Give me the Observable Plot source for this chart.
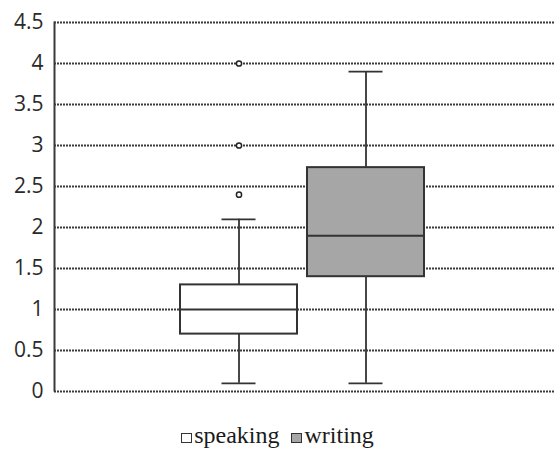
<!DOCTYPE html>
<html>
<head>
<meta charset="utf-8">
<script src="https://cdn.jsdelivr.net/npm/d3@7"></script>
<script src="https://cdn.jsdelivr.net/npm/@observablehq/plot@0.6"></script>
<style>
  html, body { margin: 0; padding: 0; background: #fff; }
  #wrap { position: relative; width: 555px; height: 453px; }
  #legend { position: absolute; top: 419px; left: 0; width: 555px; text-align: center;
    font-family: "Liberation Serif", "Times New Roman", Tinos, serif; font-size: 24px; line-height: 32px; color: #1a1a1a; white-space: nowrap; }
  .sw { display: inline-block; width: 9px; height: 8px; border: 1.5px solid #333; vertical-align: 0px; margin-right: 2px; }
</style>
</head>
<body>
<div id="wrap"><div id="chart"></div><div id="legend"></div></div>
<script>
// Data
const groups   = ["speaking", "writing"];
const fills    = ["#ffffff", "#a6a6a6"];
const mins     = [0.1, 0.1];
const q1s      = [0.7, 1.4];
const medians  = [1.0, 1.9];
const q3s      = [1.3, 2.73];
const maxs     = [2.1, 3.9];
const outlierGroup = ["speaking", "speaking", "speaking"];
const outlierValue = [2.4, 3.0, 4.0];
const yTicks   = [0, 0.5, 1, 1.5, 2, 2.5, 3, 3.5, 4, 4.5];
const yTickLabels = ["0", "0.5", "1", "1.5", "2", "2.5", "3", "3.5", "4", "4.5"];

const stats = groups.map((g, i) => ({group: g, fill: fills[i], min: mins[i], q1: q1s[i], median: medians[i], q3: q3s[i], max: maxs[i]}));
const outliers = outlierGroup.map((g, i) => ({group: g, value: outlierValue[i]}));

const dark = "#333";
const chart = Plot.plot({
  width: 555,
  height: 405,
  marginLeft: 54,
  marginRight: 0,
  marginTop: 22,
  marginBottom: 14,
  style: {fontFamily: "'Open Sans', sans-serif", background: "#fff"},
  x: {type: "band", domain: groups, range: [179, 424.5], paddingInner: 0.078, paddingOuter: 0, axis: null},
  y: {domain: [0, 4.5], ticks: yTicks},
  marks: [
    Plot.ruleY(yTicks, {stroke: "#3a3a3a", strokeWidth: 2, strokeDasharray: "2,1"}),
    Plot.frame({anchor: "left", stroke: "#3a3a3a", strokeWidth: 2, strokeDasharray: "2,1"}),
    Plot.axisY({ticks: yTicks, tickSize: 0, tickPadding: 11, tickFormat: (d) => yTickLabels[yTicks.indexOf(d)], fontSize: 21, fill: "#2a2a2a"}),
    Plot.ruleX(stats, {x: "group", y1: "min", y2: "q1", stroke: dark, strokeWidth: 1.8}),
    Plot.ruleX(stats, {x: "group", y1: "q3", y2: "max", stroke: dark, strokeWidth: 1.8}),
    Plot.tickY(stats, {x: "group", y: "min", stroke: dark, strokeWidth: 1.8, insetLeft: 41.5, insetRight: 41.5}),
    Plot.tickY(stats, {x: "group", y: "max", stroke: dark, strokeWidth: 1.8, insetLeft: 41.5, insetRight: 41.5}),
    Plot.barY(stats, {x: "group", y1: "q1", y2: "q3", fill: "fill", stroke: dark, strokeWidth: 2}),
    Plot.tickY(stats, {x: "group", y: "median", stroke: dark, strokeWidth: 2}),
    Plot.dot(outliers, {x: "group", y: "value", r: 2.6, fill: "#fff", stroke: "#222", strokeWidth: 1.5})
  ]
});
document.getElementById("chart").appendChild(chart);

const legend = document.getElementById("legend");
groups.forEach((g, i) => {
  const sw = document.createElement("span");
  sw.className = "sw";
  sw.style.background = fills[i];
  legend.appendChild(sw);
  legend.appendChild(document.createTextNode(g + (i < groups.length - 1 ? "\u00a0\u00a0" : "")));
});
</script>
</body>
</html>
